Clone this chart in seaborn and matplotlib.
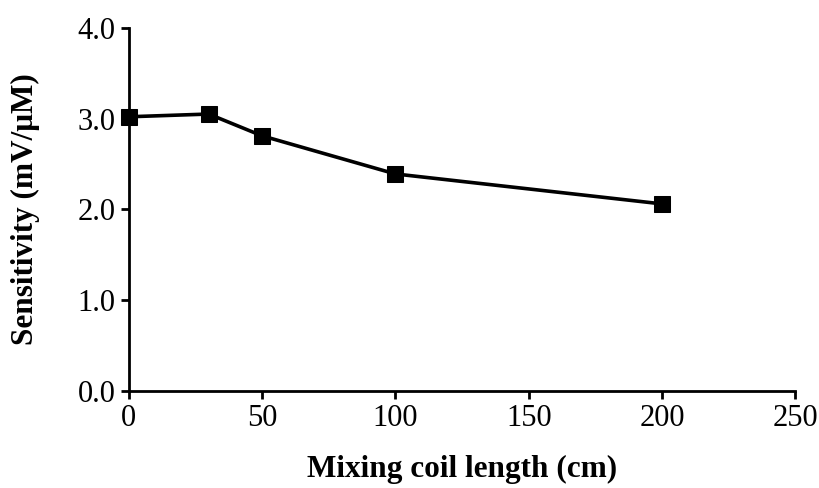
import matplotlib
matplotlib.use("Agg")
import matplotlib.pyplot as plt
import seaborn as sns
import pandas as pd

coil_length = [0, 30, 50, 100, 200]
sensitivity = [3.02, 3.05, 2.81, 2.39, 2.06]
x_ticks = [0, 50, 100, 150, 200, 250]
y_ticks = [0.0, 1.0, 2.0, 3.0, 4.0]

sns.set_theme(style="ticks")
plt.rcParams['font.family'] = ['Liberation Serif', 'DejaVu Serif']

df = pd.DataFrame({"x": coil_length, "y": sensitivity})

fig = plt.figure(figsize=(8.2, 4.88), dpi=100)
ax = fig.add_axes([0.157, 0.199, 0.813, 0.744])
sns.lineplot(data=df, x="x", y="y", ax=ax, color="black", linewidth=2.6,
             marker="s", markersize=11.5, markeredgecolor="black", markerfacecolor="black")
ax.set_xlim(0, 250)
ax.set_ylim(0, 4.0)
ax.set_xticks(x_ticks)
ax.set_xticklabels([str(t) for t in x_ticks])
ax.set_yticks(y_ticks)
ax.set_yticklabels([f"{t:.1f}" for t in y_ticks])
ax.tick_params(axis="both", labelsize=22, direction="out", length=6, width=2,
               colors="black", labelcolor="black")
for s in ["top", "right"]:
    ax.spines[s].set_visible(False)
for s in ["left", "bottom"]:
    ax.spines[s].set_linewidth(2)
    ax.spines[s].set_color("black")
ax.set_xlabel("Mixing coil length (cm)", fontsize=22.5, fontweight="bold", labelpad=16, color="black")
ax.set_ylabel("Sensitivity (mV/μM)", fontsize=22.5, fontweight="bold", labelpad=27, color="black")
for line in ax.lines:
    line.set_clip_on(False)
fig.savefig("out.png", dpi=100)
